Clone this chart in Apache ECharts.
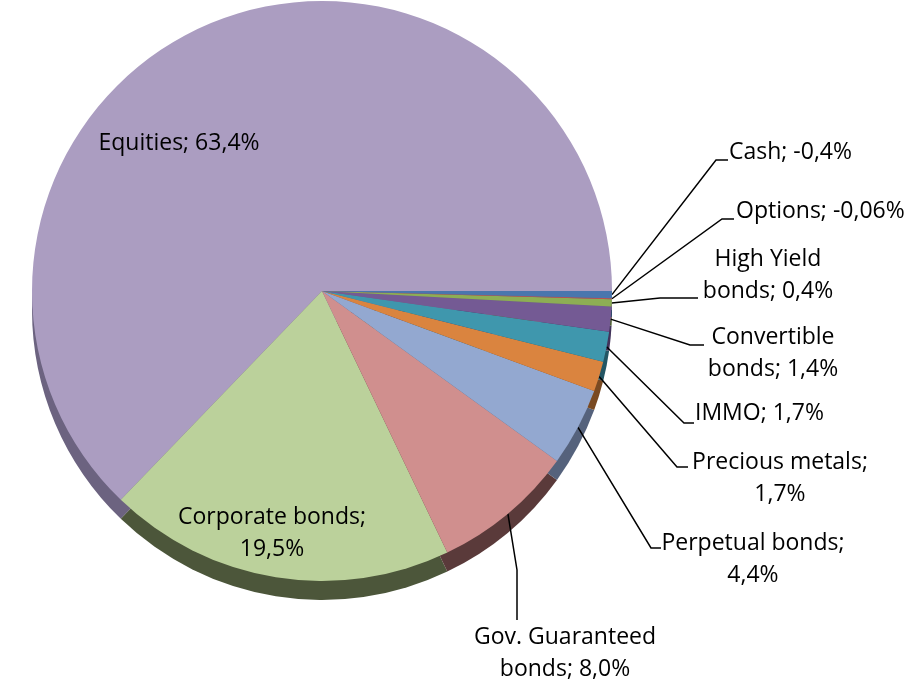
<!DOCTYPE html>
<html>
<head>
<meta charset="utf-8">
<script src="https://cdn.jsdelivr.net/npm/echarts@6/dist/echarts.min.js"></script>
<style>
html,body{margin:0;padding:0;background:#fff;}
#chart{width:909px;height:679px;}
</style>
</head>
<body>
<div id="chart"></div>
<script>
// ---- data ----
var categories = ['Equities','Corporate bonds','Gov. Guaranteed bonds','Perpetual bonds','Precious metals','IMMO','Convertible bonds','High Yield bonds','Options','Cash'];
var values = [63.4, 19.5, 8.0, 4.4, 1.7, 1.7, 1.4, 0.4, -0.06, -0.4];
// words on first label line (0 = no break)
var breakAfter = [0, 2, 2, 2, 2, 0, 1, 2, 0, 0];

// ---- styles ----
var faceColors = ['#AB9DC1','#BBD19B','#D08F8E','#93A8D0','#DA843F','#3F97AD','#745A94','#8DAE54','#C0504D','#4A76AE'];
var sideColors = ['#6C6380','#4C563A','#5A3A3A','#55627C','#7A4A22','#235664','#42335A','#4F6230','#6E2C2A','#2A4466'];
var labelPos = [
  {x:179, y:143, align:'center'},
  {x:272, y:533, align:'center'},
  {x:565, y:653, align:'center', line:[[517,570],[517,620]]},
  {x:753, y:559, align:'center', line:[[651,548],[661,548]]},
  {x:780, y:478, align:'center', line:[[677,467],[688,467]]},
  {x:695, y:413, align:'left',   line:[[684,423],[694,423]]},
  {x:773, y:353, align:'center', line:[[690,345],[704,345]]},
  {x:768, y:275, align:'center', line:[[660,298],[698,298]]},
  {x:736, y:211, align:'left',   line:[[722,219],[734,219]]},
  {x:729, y:152, align:'left',   line:[[716,160],[728,160]]}
];

function fmt(v){
  var d = Math.abs(v) < 0.1 ? 2 : 1;
  return v.toFixed(d).replace('.', ',') + '%';
}
function labelText(i){
  var words = (categories[i] + '; ' + fmt(values[i])).split(' ');
  var b = breakAfter[i];
  if (!b) return words.join(' ');
  return words.slice(0,b).join(' ') + '\n' + words.slice(b).join(' ');
}

var faceData = categories.map(function(c,i){
  var item = {name:c, value:Math.abs(values[i]), itemStyle:{color:faceColors[i]}};
  if (i < 2) item.labelLine = {show:false};
  return item;
});
var sideData = categories.map(function(c,i){
  return {name:c, value:Math.abs(values[i]), itemStyle:{color:sideColors[i]}};
});

var chart = echarts.init(document.getElementById('chart'), null, {renderer:'canvas'});
chart.setOption({
  backgroundColor:'#fff',
  animation:false,
  series:[
    {
      type:'pie', silent:true, z:1,
      center:[322,310], radius:290,
      startAngle:0, clockwise:false,
      label:{show:false}, labelLine:{show:false},
      data:sideData
    },
    {
      type:'pie', z:2,
      center:[322,291], radius:290,
      startAngle:0, clockwise:false,
      avoidLabelOverlap:false,
      itemStyle:{borderWidth:0},
      label:{
        show:true, position:'outside',
        formatter:function(p){ return labelText(p.dataIndex); },
        fontFamily:'Open Sans', fontSize:23, color:'#000', lineHeight:32
      },
      labelLine:{show:true, length:10, length2:10, lineStyle:{color:'#000', width:1.5}},
      labelLayout:function(params){
        var L = labelPos[params.dataIndex];
        var res = {x:L.x, y:L.y, align:L.align, verticalAlign:'middle'};
        if (L.line && params.labelLinePoints) {
          res.labelLinePoints = [params.labelLinePoints[0], L.line[0], L.line[1]];
        }
        return res;
      },
      data:faceData
    }
  ]
});
</script>
</body>
</html>
